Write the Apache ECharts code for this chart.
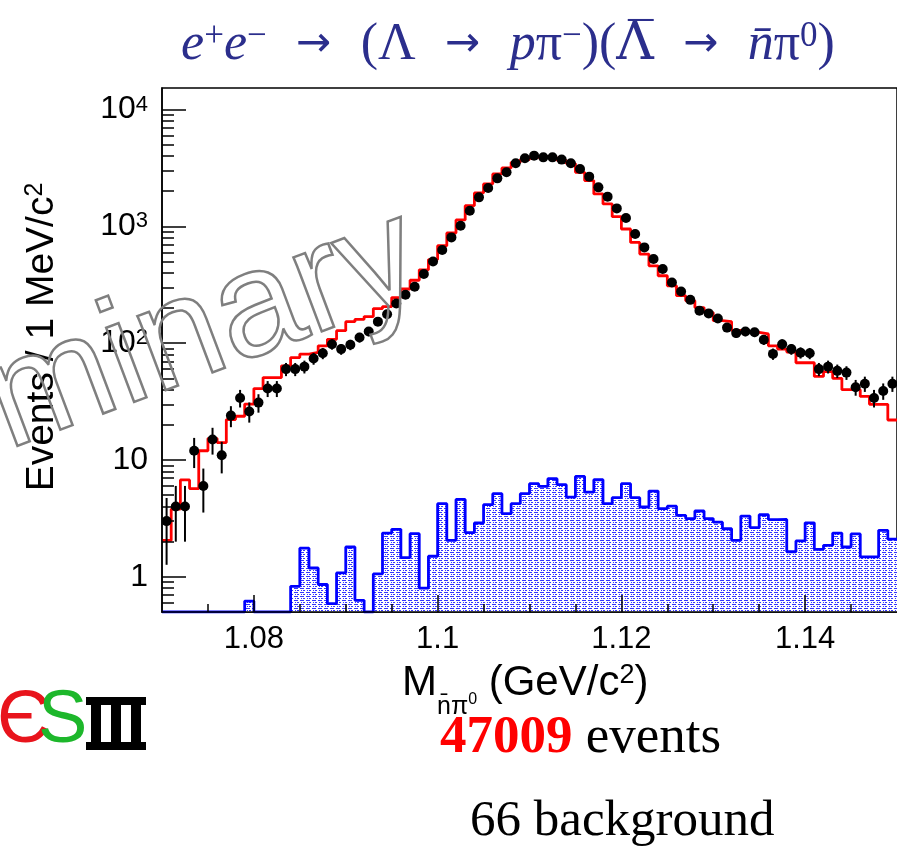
<!DOCTYPE html>
<html>
<head>
<meta charset="utf-8">
<script src="https://cdn.jsdelivr.net/npm/echarts@6/dist/echarts.min.js"></script>
<style>
  html, body { margin: 0; padding: 0; background: #fff; }
  #chart { width: 897px; height: 847px; }
</style>
</head>
<body>
<div id="chart"></div>
<script>
// Binning of the invariant-mass histogram: 1 MeV/c^2 bins starting at 1.070 GeV/c^2
const BIN_LOW = 1.070;
const BIN_WIDTH = 0.001;
const X_MIN = 1.07, X_MAX = 1.15;
const Y_MIN = 0.5, Y_MAX = 15300;

// Observed events per bin
const dataCounts = [
  3, 4, 4, 12, 6, 15, 11, 24, 34, 26,
  31, 41, 41, 60, 60, 63, 74, 82, 98, 89,
  97, 112, 126, 153, 177, 219, 260, 304, 391, 501,
  628, 805, 1014, 1362, 1772, 2134, 2577, 2903, 3467, 3827,
  4034, 3900, 3900, 3730, 3467, 3104, 2666, 2159, 1797, 1426,
  1180, 860, 661, 526, 431, 331, 277, 235, 190, 180,
  163, 136, 122, 126, 124, 107, 81, 98, 89, 83,
  82, 60, 63, 58, 56, 42, 45, 34, 39, 45
];

// Fit result (red histogram)
const fitValues = [
  2.05, 3.8, 6.75, 5.7, 12.0, 15.3, 14.1, 22.2, 23.7, 30.1,
  40.9, 50.8, 50.8, 64, 75.4, 80.7, 83.3, 95, 108, 128,
  153, 160, 169, 198, 206, 246, 291, 346, 425, 520,
  683, 878, 1135, 1504, 1933, 2308, 2812, 3164, 3534, 3730,
  3900, 3950, 3850, 3680, 3450, 2903, 2465, 1895, 1556, 1211,
  950, 729, 580, 460, 378, 310, 255, 231, 202, 183,
  156, 153, 129, 126, 124, 120, 95, 89, 84, 68,
  68, 52, 57, 50, 40, 40, 35, 30, 30, 22
];

// Background estimate (blue hatched histogram)
const bkgValues = [
  0, 0, 0, 0, 0, 0, 0, 0, 0, 0.62,
  0, 0, 0, 0, 0.83, 1.76, 1.19, 0.86, 0.59, 1.08,
  1.80, 0.63, 0, 1.06, 2.37, 2.55, 1.46, 2.34, 0.80, 1.50,
  4.23, 2.05, 4.6, 2.39, 2.89, 4.15, 5.15, 3.47, 4.23, 5.15,
  6.27, 5.94, 6.92, 6.15, 4.82, 7.24, 5.31, 6.78, 4.23, 4.76,
  6.27, 4.76, 3.96, 5.42, 3.83, 4.03, 3.36, 3.15, 3.66, 3.15,
  2.94, 2.58, 2.05, 3.31, 2.64, 3.40, 3.09, 3.10, 1.64, 2.03,
  2.90, 1.72, 1.86, 2.37, 1.80, 2.33, 1.48, 1.48, 2.50, 2.10
];

// Axis ticks and labels
const xLabelTicks = [1.08, 1.10, 1.12, 1.14];
const xMinorTicks = [1.075, 1.08, 1.085, 1.09, 1.095, 1.10, 1.105, 1.11, 1.115, 1.12,
                     1.125, 1.13, 1.135, 1.14, 1.145];
const yMajorTicks = [1, 10, 100, 1000, 10000];
const yMinorTicks = [0.6, 0.7, 0.8, 0.9,
                     2, 3, 4, 5, 6, 7, 8, 9,
                     20, 30, 40, 50, 60, 70, 80, 90,
                     200, 300, 400, 500, 600, 700, 800, 900,
                     2000, 3000, 4000, 5000, 6000, 7000, 8000, 9000];

const SANS = "'Liberation Sans', Arial, Helvetica, sans-serif";
const SERIF = "'Liberation Serif', 'DejaVu Serif', serif";
const TITLE_BLUE = '#2b2e8c';

// Left edge of every bin plus the closing edge, for step drawing
function stepData(values) {
  const pts = values.map((v, i) => [BIN_LOW + i * BIN_WIDTH, Math.max(v, Y_MIN)]);
  pts.push([BIN_LOW + values.length * BIN_WIDTH, Math.max(values[values.length - 1], Y_MIN)]);
  return pts;
}

// Hatch-like fill for the background histogram
function makeHatch() {
  const c = document.createElement('canvas');
  c.width = 6; c.height = 4;
  const g = c.getContext('2d');
  g.fillStyle = '#ffffff';
  g.fillRect(0, 0, 6, 4);
  g.fillStyle = '#3535ff';
  g.fillRect(0, 0, 4, 1);
  g.fillRect(1, 2, 1, 1);
  g.fillRect(3, 2, 2, 1);
  return c;
}

const chart = echarts.init(document.getElementById('chart'), null, { renderer: 'canvas' });

const ARROW = '\u2002\u2009\u2192\u2002\u2009';

const option = {
  backgroundColor: '#fff',
  animation: false,
  grid: {
    left: 162, top: 88, width: 738, height: 524,
    show: true, borderColor: '#000', borderWidth: 1.5, backgroundColor: 'transparent'
  },
  xAxis: [
    {
      type: 'value', min: X_MIN, max: X_MAX, position: 'bottom', z: 5,
      axisLine: { show: true, onZero: false, lineStyle: { color: '#000', width: 1.5 } },
      axisTick: { show: true, inside: true, length: 8, customValues: xMinorTicks,
                  lineStyle: { color: '#000', width: 1.5 } },
      axisLabel: {
        customValues: xLabelTicks, margin: 12, fontSize: 31, fontFamily: SANS, color: '#000',
        formatter: v => String(+v.toFixed(2))
      },
      splitLine: { show: false }
    },
    {
      type: 'value', min: X_MIN, max: X_MAX, position: 'bottom', z: 5,
      axisLine: { show: false },
      axisTick: { show: true, inside: true, length: 17, customValues: xLabelTicks,
                  lineStyle: { color: '#000', width: 1.5 } },
      axisLabel: { show: false },
      splitLine: { show: false }
    }
  ],
  yAxis: [
    {
      type: 'log', logBase: 10, min: Y_MIN, max: Y_MAX, position: 'left', z: 5,
      axisLine: { show: true, onZero: false, lineStyle: { color: '#000', width: 1.5 } },
      axisTick: { show: true, inside: true, length: 24, customValues: yMajorTicks,
                  lineStyle: { color: '#000', width: 1.5 } },
      axisLabel: {
        customValues: yMajorTicks, margin: 14, fontSize: 32, fontFamily: SANS, color: '#000',
        formatter: v => {
          const k = Math.round(Math.log10(v));
          if (k === 0) return '1';
          if (k === 1) return '10';
          return '10{sup|' + k + '}';
        },
        rich: {
          sup: { fontSize: 22, fontFamily: SANS, color: '#000', verticalAlign: 'top', lineHeight: 18 }
        }
      },
      splitLine: { show: false }
    },
    {
      type: 'log', logBase: 10, min: Y_MIN, max: Y_MAX, position: 'left', z: 5,
      axisLine: { show: false },
      axisTick: { show: true, inside: true, length: 12, customValues: yMinorTicks,
                  lineStyle: { color: '#000', width: 1.5 } },
      axisLabel: { show: false },
      splitLine: { show: false }
    }
  ],
  series: [
    {
      name: 'background', type: 'line', step: 'end', symbol: 'none',
      xAxisIndex: 0, yAxisIndex: 0, z: 2,
      data: stepData(bkgValues),
      lineStyle: { color: '#0000ff', width: 2.8 },
      areaStyle: { origin: 'start', color: { image: makeHatch(), repeat: 'repeat' }, opacity: 1 }
    },
    {
      name: 'fit', type: 'line', step: 'end', symbol: 'none',
      xAxisIndex: 0, yAxisIndex: 0, z: 3,
      data: stepData(fitValues),
      lineStyle: { color: '#ff0000', width: 2.8 }
    },
    {
      name: 'data', type: 'custom', xAxisIndex: 0, yAxisIndex: 0, z: 4, clip: true,
      data: dataCounts.map((v, i) => [BIN_LOW + (i + 0.5) * BIN_WIDTH, v]),
      renderItem: function (params, api) {
        const x = api.value(0), v = api.value(1);
        const err = Math.sqrt(v);
        const p = api.coord([x, v]);
        const hi = api.coord([x, v + err]);
        const lo = api.coord([x, Math.max(v - err, Y_MIN)]);
        return {
          type: 'group',
          children: [
            { type: 'line', shape: { x1: p[0], y1: hi[1], x2: p[0], y2: lo[1] },
              style: { stroke: '#000', lineWidth: 2 } },
            { type: 'circle', shape: { cx: p[0], cy: p[1], r: 5 },
              style: { fill: '#000' } }
          ]
        };
      }
    }
  ],
  graphic: [
    // reaction title
    {
      type: 'text', x: 508, y: 45, z: 10,
      style: {
        text: '{i|e}{s|+}{i|e}{s|\u2212}{a|' + ARROW + '}(\u039B{a|' + ARROW + '}{i|p}\u03C0{s|\u2212})({lb|\u039B\u0305}{a|' + ARROW + '}{i|n\u0304}\u03C0{s|0})',
        font: '52px ' + SERIF, fill: TITLE_BLUE, align: 'center', verticalAlign: 'middle',
        rich: {
          i: { fontStyle: 'italic', fontSize: 52, fontFamily: SERIF, fill: TITLE_BLUE },
          a: { fontSize: 42, fontFamily: "'DejaVu Sans', sans-serif", fill: TITLE_BLUE },
          lb: { fontSize: 52, fontFamily: "'DejaVu Serif', serif", fill: TITLE_BLUE },
          s: { fontSize: 35, fontFamily: SERIF, fill: TITLE_BLUE, verticalAlign: 'top', lineHeight: 28 }
        }
      }
    },
    // y axis title
    {
      type: 'text', x: 42, y: 337, rotation: Math.PI / 2, z: 10,
      style: {
        text: 'Events / 1 MeV/c{s|2}', font: '39px ' + SANS, fill: '#000',
        align: 'center', verticalAlign: 'middle',
        rich: { s: { fontSize: 25, fontFamily: SANS, fill: '#000', verticalAlign: 'top', lineHeight: 22 } }
      }
    },
    // x axis title
    {
      type: 'text', x: 402, y: 683, z: 10,
      style: {
        text: 'M{sub|n\u0304\u03C0}{ss|0} (GeV/c{s|2})', font: '42px ' + SANS, fill: '#000',
        align: 'left', verticalAlign: 'middle',
        rich: {
          sub: { fontSize: 25, fontFamily: SANS, fill: '#000', verticalAlign: 'bottom', padding: [0, 0, -16, 0] },
          ss: { fontSize: 16, fontFamily: SANS, fill: '#000', verticalAlign: 'bottom', padding: [0, 0, -4, 0] },
          s: { fontSize: 27, fontFamily: SANS, fill: '#000', verticalAlign: 'top', lineHeight: 24 }
        }
      }
    },
    // event yield
    {
      type: 'text', x: 440, y: 738, z: 10,
      style: {
        text: '{r|47009} events', font: '53px ' + SERIF, fill: '#000',
        align: 'left', verticalAlign: 'middle',
        rich: { r: { fontWeight: 'bold', fontSize: 53, fontFamily: SERIF, fill: '#ff0000' } }
      }
    },
    {
      type: 'text', x: 470, y: 822, z: 10,
      style: { text: '66 background', font: '51px ' + SERIF, fill: '#000', align: 'left', verticalAlign: 'middle' }
    },
    // experiment logo
    {
      type: 'text', x: -3, y: 722, z: 10,
      style: { text: '\u0404', font: '74px ' + SANS, fill: '#e8141c', align: 'left', verticalAlign: 'middle' }
    },
    {
      type: 'text', x: 38, y: 722, z: 10,
      style: { text: 'S', font: '74px ' + SANS, fill: '#1db72b', align: 'left', verticalAlign: 'middle' }
    },
    { type: 'rect', z: 10, shape: { x: 86, y: 697, width: 60, height: 8 }, style: { fill: '#000' } },
    { type: 'rect', z: 10, shape: { x: 86, y: 742, width: 60, height: 8 }, style: { fill: '#000' } },
    { type: 'rect', z: 10, shape: { x: 91, y: 697, width: 10, height: 53 }, style: { fill: '#000' } },
    { type: 'rect', z: 10, shape: { x: 111, y: 697, width: 10, height: 53 }, style: { fill: '#000' } },
    { type: 'rect', z: 10, shape: { x: 131, y: 697, width: 10, height: 53 }, style: { fill: '#000' } },
    // preliminary watermark (hollow letters)
    {
      type: 'text', x: 388, y: 182, rotation: 0.36, z: 20,
      style: {
        text: 'Preliminary', font: '150px ' + SANS, fill: 'transparent',
        stroke: '#7f7f7f', lineWidth: 2.5, align: 'right', verticalAlign: 'top'
      }
    }
  ]
};

chart.setOption(option);
</script>
</body>
</html>
